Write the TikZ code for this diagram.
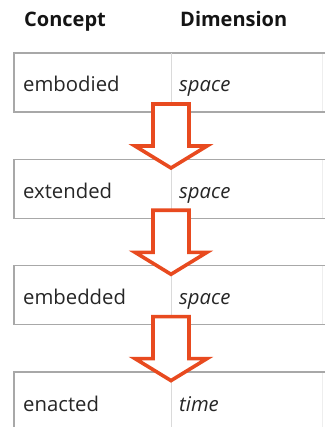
\documentclass[tikz,border=0pt]{standalone}
\usepackage{fontspec}
\setmainfont{Open Sans}
\usetikzlibrary{calc}
\definecolor{txt}{HTML}{262626}
\definecolor{bordercol}{HTML}{A8A8A8}
\definecolor{dividercol}{HTML}{DADADA}
\definecolor{edgecol}{HTML}{EEEEEE}
\definecolor{arrowcol}{HTML}{E84A1F}
\begin{document}
\begin{tikzpicture}[x=1pt,y=-1pt,
  conceptcell/.style={minimum width=157pt,minimum height=59pt,anchor=north west,inner sep=0pt,outer sep=0pt},
  dimcell/.style={minimum width=154pt,minimum height=59pt,anchor=north west,inner sep=0pt,outer sep=0pt},
  rowborder/.style={draw=bordercol,line width=1.1pt},
  faintedge/.style={draw=edgecol,line width=0.9pt},
  divider/.style={draw=dividercol,line width=0.9pt},
  label/.style={anchor=base west,inner sep=0pt,text=txt,font=\fontsize{20.3}{23}\selectfont},
  head/.style={label,font=\fontsize{20}{23}\selectfont\bfseries,text=black!92},
  blockarrow/.style={draw=arrowcol,fill=white,line width=3.6pt,line join=miter}
]
\useasboundingbox (0,0) rectangle (325,427);
\clip (0,0) rectangle (325,427);
\fill[white] (0,0) rectangle (325,427);

\node[head] (hc) at (24,27) {Concept};
\node[head] (hd) at (180,27) {Dimension};

% rows
\foreach \i/\top/\con/\dim in {1/53/embodied/space,2/159.3/extended/space,3/265.6/embedded/space,4/372/enacted/time}{
  \node[conceptcell] (c\i) at (14,\top) {};
  \node[dimcell] (d\i) at (c\i.north east) {};
  \draw[faintedge] ($(d\i.north east)+(-3,0)$) -- ($(d\i.south east)+(-3,0)$);
  \draw[rowborder] (d\i.north east) -- (c\i.north west) -- (c\i.south west) -- (d\i.south east);
  \draw[divider] (c\i.north east) -- (c\i.south east);
  \node[label] (t\i) at ($(c\i.north west)+(9,39)$) {\con};
  \node[label] (u\i) at ($(d\i.north west)+(8,39)$) {\itshape\dim};
}

% arrows
\foreach \i in {1,2,3}{
  \begin{scope}[shift={(c\i.south east)}]
    \draw[blockarrow] (-18,-8) -- (-18,34) -- (-36,34) -- (0,56) -- (36,34) -- (18,34) -- (18,-8) -- cycle;
  \end{scope}
}
\end{tikzpicture}
\end{document}
